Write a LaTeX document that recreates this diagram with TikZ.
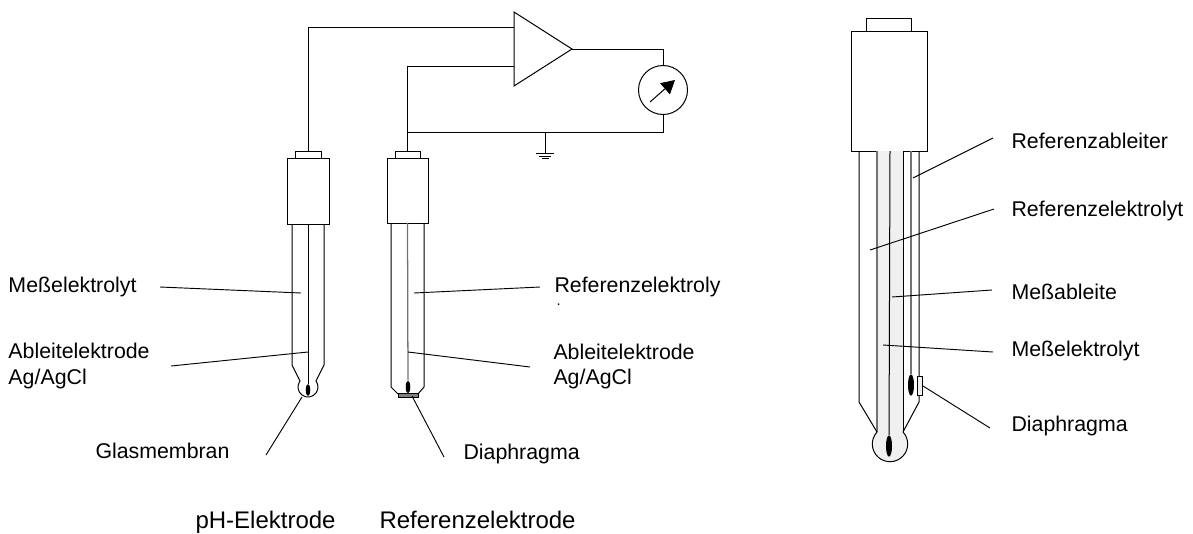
\documentclass[tikz,border=0pt]{standalone}
\usepackage{fontspec}
\setmainfont{Liberation Sans}
\usetikzlibrary{arrows.meta}
\usetikzlibrary{positioning}
\usetikzlibrary{shapes.geometric}
\definecolor{tubefill}{HTML}{F0F0F0}
\definecolor{framefill}{HTML}{808080}
\tikzset{
  lbl/.style={anchor=base west,inner sep=0pt,font=\fontsize{16}{18}\selectfont},
  caption/.style={lbl,font=\fontsize{18}{20}\selectfont},
  clipped/.style={lbl,font=\fontsize{11}{11}\selectfont},
  box/.style={draw,fill=white,rectangle,inner sep=0pt,outer sep=0pt},
  wire/.style={line width=0.75pt},
  leader/.style={line width=0.7pt},
  graywire/.style={line width=0.95pt,draw=black!55},
  blob/.style={fill=black,ellipse,inner sep=0pt}
}
\begin{document}
\begin{tikzpicture}[x=0.75pt,y=-0.75pt,wire]
  \useasboundingbox (0,0) rectangle (1193,533);

  \node[lbl] at (8,292) (mess1) {Meßelektrolyt};
  \node[lbl] at (8,358) (ableit1) {Ableitelektrode};
  \node[lbl] at (8,384) (ag1) {Ag/AgCl};
  \node[lbl] at (95,458) (glas) {Glasmembran};
  \node[lbl] at (463,459) (dia1) {Diaphragma};
  \node[lbl] at (554,292) (ref1) {Referenzelektroly};
  \node[clipped] at (556,305) (ref1t) {.};
  \node[lbl] at (553,359) (ableit2) {Ableitelektrode};
  \node[lbl] at (553,384) (ag2) {Ag/AgCl};
  \node[caption] at (195,528) (phname) {pH-Elektrode};
  \node[caption] at (379,528) (refname) {Referenzelektrode};
  \node[lbl] at (1011,148) (refabl) {Referenzableiter};
  \node[lbl] at (1011,216) (ref2) {Referenzelektrolyt};
  \node[lbl] at (1011,299) (messabl) {Meßableite};
  \node[lbl] at (1011,356) (mess2) {Meßelektrolyt};
  \node[lbl] at (1011,431) (dia2) {Diaphragma};

  \node[box,minimum width=31.5pt,minimum height=50pt] at (308,191.5) (phhead) {};
  \node[box,above=0pt of phhead,minimum width=19.5pt,minimum height=5.25pt] (phcap) {};
  \node[box,minimum width=30.75pt,minimum height=48.75pt] at (407.5,190.5) (refhead) {};
  \node[box,above=0pt of refhead,minimum width=18.75pt,minimum height=5.25pt] (refcap) {};
  \node[box,minimum width=57pt,minimum height=90pt] at (889,91) (bighead) {};
  \node[box,above=0pt of bighead,minimum width=33.75pt,minimum height=9.75pt] (bigcap) {};

  \draw (292,225) -- (292,365) -- (300,381) arc[start angle=217,end angle=-37,radius=10] -- (324,365) -- (324,225);
  \node[blob,minimum width=3.4pt,minimum height=9pt] at (308,390) (phblob) {};
  \draw (phhead.south) -- (phblob);

  \draw (391,223) -- (391,387) -- (398,394) (424,223) -- (424,387) -- (418,394);
  \node[blob,minimum width=3.4pt,minimum height=9.5pt] at (408,387) (refblob) {};
  \draw[graywire] (refhead.south) -- (refblob);
  \draw[fill=framefill] (398,393.5) rectangle (418,397.5);

  \fill[tubefill] (877,151) -- (877,432) arc[start angle=222.7,end angle=-42.7,radius=17.7] -- (903,151) -- cycle;
  \draw (877,432) arc[start angle=222.7,end angle=-42.7,radius=17.7];
  \draw[graywire] (877,151) -- (877,432);
  \draw (903,151) -- (903,432);
  \draw (859,151) -- (859,402) -- (877,432);
  \draw (919,151) -- (919,402) -- (903,432);
  \node[blob,minimum width=4.5pt,minimum height=16pt] at (889,446) (bigblob) {};
  \draw (890,151) -- (bigblob);
  \node[blob,minimum width=4.5pt,minimum height=16pt] at (911,385) (sideblob) {};
  \draw[graywire] (911,151) -- (sideblob);
  \node[box,fill=tubefill,minimum width=3.75pt,minimum height=14.25pt] at (919.5,385.5) (sidefrit) {};

  \coordinate (ampa) at (514,12);
  \coordinate (ampb) at (514,86);
  \coordinate (ampout) at (572,49);
  \coordinate (ampin1) at (514,27);
  \coordinate (ampin2) at (514,66);
  \draw (ampa) -- (ampout) -- (ampb) -- cycle;
  \draw (phcap.north) |- (ampin1);
  \draw (refcap.north) |- (ampin2);

  \node[draw,circle,minimum size=36.75pt,inner sep=0pt] at (663,90) (meter) {};
  \coordinate (needle1) at (650,102);
  \coordinate (needle2) at (675,80);
  \draw[-{Triangle[length=10pt,width=11pt]}] (needle1) -- (needle2);
  \draw (ampout) -| (meter.north);
  \coordinate (refjoin) at (408,132);
  \draw (meter.south) |- (refjoin);

  \coordinate (gnd) at (545,132);
  \coordinate (gnd1) at (545,153);
  \draw (gnd) -- (gnd1);
  \draw (536,153) -- (554,153) (539,156) -- (551,156) (542,158) -- (549,158);

  \coordinate (a1) at (160,287); \coordinate (b1) at (301,293);
  \coordinate (a2) at (171,366); \coordinate (b2) at (308,352);
  \coordinate (a3) at (266,455); \coordinate (b3) at (302,397);
  \coordinate (a4) at (540,287); \coordinate (b4) at (414,293);
  \coordinate (a5) at (530,367); \coordinate (b5) at (408,352);
  \coordinate (a6) at (444,457); \coordinate (b6) at (412,396);
  \coordinate (a7) at (993,138); \coordinate (b7) at (913,178);
  \coordinate (a8) at (994,209); \coordinate (b8) at (870,250);
  \coordinate (a9) at (992,290); \coordinate (b9) at (892,297);
  \coordinate (a10) at (993,352); \coordinate (b10) at (883,345);
  \coordinate (a11) at (990,428); \coordinate (b11) at (923,386);
  \foreach \i in {1,...,11}
    \draw[leader] (a\i) -- (b\i);
\end{tikzpicture}
\end{document}
